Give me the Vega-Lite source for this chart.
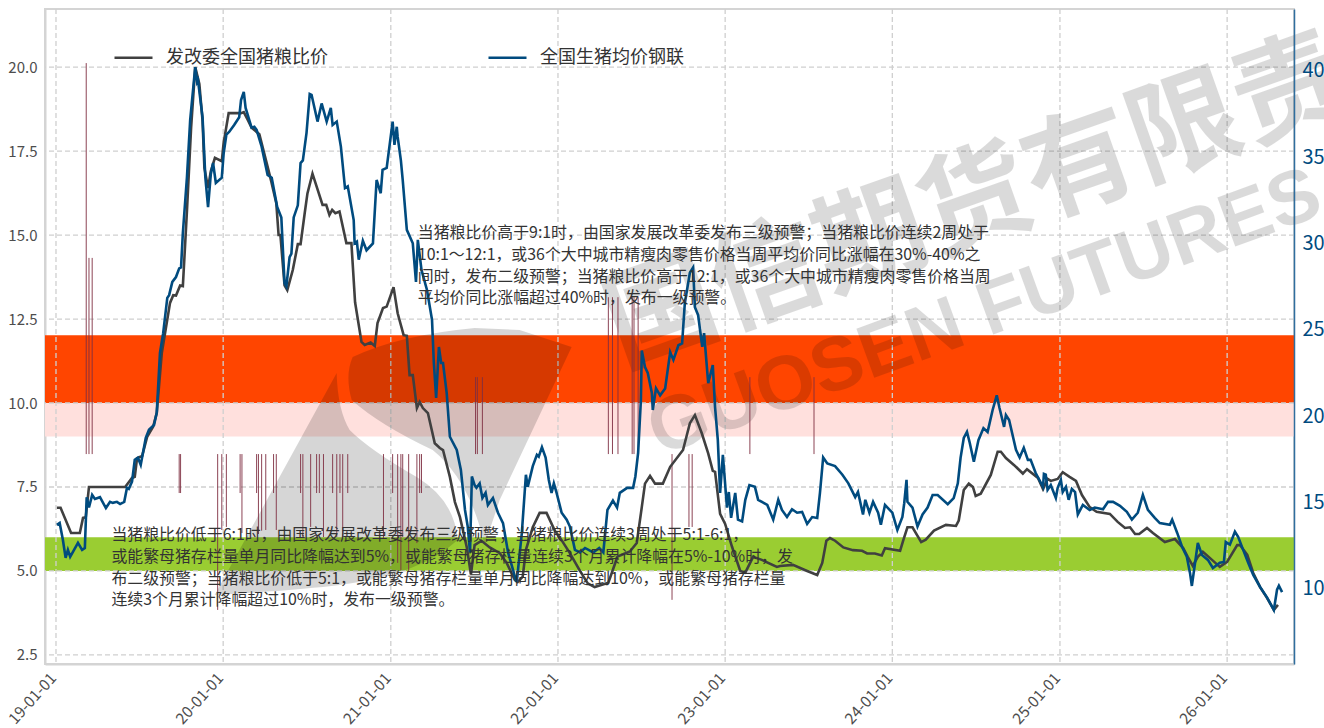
{"$schema":"https://vega.github.io/schema/vega-lite/v6.json","width":1249,"height":655,"autosize":{"type":"none"},"padding":{"left":45,"top":9,"right":30,"bottom":64},"background":"white","config":{"font":"Noto Sans CJK SC","view":{"stroke":"#d4d4d4","strokeWidth":2},"axisX":{"title":null,"grid":false,"ticks":false,"labelAngle":-48,"labelAlign":"right","labelBaseline":"middle","labelFontSize":15.5,"labelColor":"#4d4d4d","labelPadding":11,"labelOffset":-3,"labelFlush":false,"domainColor":"#d4d4d4","domainWidth":2,"format":"%y-%m-%d","tickCount":{"interval":"year","step":1}}},
"datasets":{
"bands":[{"y1":10,"y2":12.02,"c":"r"},{"y1":9,"y2":10,"c":"p"},{"y1":5,"y2":6,"c":"g"}],
"gridY":[{"v":2.5},{"v":5},{"v":7.5},{"v":10},{"v":12.5},{"v":15},{"v":17.5},{"v":20}],
"gridX":[{"d":"2019-01-01"},{"d":"2020-01-01"},{"d":"2021-01-01"},{"d":"2022-01-01"},{"d":"2023-01-01"},{"d":"2024-01-01"},{"d":"2025-01-01"},{"d":"2026-01-01"}],
"marks":[{"d":"2019-03-08","y1":20.12,"y2":8.48},{"d":"2019-03-14","y1":14.32,"y2":8.48},{"d":"2019-03-21","y1":14.32,"y2":8.48},{"d":"2019-09-27","y1":8.48,"y2":7.32},{"d":"2019-09-30","y1":8.48,"y2":7.32},{"d":"2019-12-20","y1":8.48,"y2":3.84},{"d":"2019-12-29","y1":8.48,"y2":6.22},{"d":"2020-01-08","y1":8.48,"y2":6.31},{"d":"2020-02-07","y1":8.48,"y2":7.32},{"d":"2020-02-11","y1":8.48,"y2":6.13},{"d":"2020-03-14","y1":8.48,"y2":7.32},{"d":"2020-03-18","y1":8.48,"y2":6.1},{"d":"2020-03-25","y1":8.48,"y2":6.2},{"d":"2020-04-03","y1":8.48,"y2":6.22},{"d":"2020-04-20","y1":8.48,"y2":7.32},{"d":"2020-04-26","y1":8.48,"y2":6.22},{"d":"2020-06-18","y1":8.48,"y2":7.32},{"d":"2020-06-23","y1":8.48,"y2":6.01},{"d":"2020-07-10","y1":8.48,"y2":6.31},{"d":"2020-07-23","y1":8.48,"y2":7.32},{"d":"2020-07-29","y1":8.48,"y2":7.32},{"d":"2020-08-07","y1":8.48,"y2":6.01},{"d":"2020-08-27","y1":8.48,"y2":7.32},{"d":"2020-09-05","y1":8.48,"y2":6.01},{"d":"2020-09-12","y1":8.48,"y2":7.32},{"d":"2020-09-18","y1":8.48,"y2":6.01},{"d":"2020-09-29","y1":8.48,"y2":7.32},{"d":"2020-12-16","y1":8.48,"y2":5.98},{"d":"2021-01-05","y1":8.48,"y2":7.32},{"d":"2021-01-16","y1":8.48,"y2":5.24},{"d":"2021-01-23","y1":8.48,"y2":5.03},{"d":"2021-01-27","y1":8.48,"y2":6.01},{"d":"2021-02-09","y1":8.48,"y2":4.97},{"d":"2021-02-27","y1":8.48,"y2":5.83},{"d":"2021-03-05","y1":8.48,"y2":7.32},{"d":"2021-03-09","y1":8.48,"y2":7.32},{"d":"2021-07-05","y1":10.77,"y2":8.48},{"d":"2021-07-09","y1":10.77,"y2":8.48},{"d":"2021-07-20","y1":10.77,"y2":8.48},{"d":"2022-04-21","y1":13.15,"y2":8.48},{"d":"2022-04-30","y1":13.15,"y2":8.48},{"d":"2022-05-12","y1":13.15,"y2":8.48},{"d":"2022-06-12","y1":13.15,"y2":8.48},{"d":"2022-06-16","y1":13.15,"y2":8.48},{"d":"2022-06-25","y1":13.15,"y2":8.48},{"d":"2022-09-07","y1":8.48,"y2":4.14},{"d":"2022-10-14","y1":8.48,"y2":6.31},{"d":"2022-10-21","y1":8.48,"y2":6.31},{"d":"2023-02-24","y1":10.77,"y2":8.48},{"d":"2023-07-14","y1":10.77,"y2":8.48}],
"black":[{"d":"2019-01-03","v":6.88},{"d":"2019-01-11","v":6.88},{"d":"2019-02-03","v":6.13},{"d":"2019-02-22","v":6.13},{"d":"2019-03-01","v":6.58},{"d":"2019-03-07","v":6.6},{"d":"2019-03-14","v":7.5},{"d":"2019-06-01","v":7.5},{"d":"2019-06-16","v":7.77},{"d":"2019-06-22","v":7.8},{"d":"2019-06-27","v":8.36},{"d":"2019-07-08","v":8.42},{"d":"2019-07-19","v":8.99},{"d":"2019-08-01","v":9.29},{"d":"2019-08-09","v":9.7},{"d":"2019-08-20","v":11.49},{"d":"2019-09-07","v":12.98},{"d":"2019-09-14","v":13.21},{"d":"2019-09-20","v":13.2},{"d":"2019-09-29","v":13.5},{"d":"2019-10-05","v":13.48},{"d":"2019-10-14","v":15.74},{"d":"2019-10-23","v":18.2},{"d":"2019-11-01","v":20.0},{"d":"2019-11-10","v":19.5},{"d":"2019-11-17","v":18.4},{"d":"2019-11-21","v":17.0},{"d":"2019-11-29","v":16.4},{"d":"2019-12-05","v":16.9},{"d":"2019-12-14","v":17.3},{"d":"2019-12-29","v":17.2},{"d":"2020-01-02","v":17.74},{"d":"2020-01-13","v":18.63},{"d":"2020-02-09","v":18.63},{"d":"2020-02-15","v":18.66},{"d":"2020-02-24","v":18.42},{"d":"2020-03-03","v":18.2},{"d":"2020-03-20","v":18.0},{"d":"2020-04-05","v":17.14},{"d":"2020-04-15","v":16.6},{"d":"2020-04-26","v":15.95},{"d":"2020-05-01","v":15.0},{"d":"2020-05-05","v":15.0},{"d":"2020-05-14","v":13.5},{"d":"2020-05-20","v":13.36},{"d":"2020-06-01","v":13.96},{"d":"2020-06-12","v":14.73},{"d":"2020-06-18","v":14.73},{"d":"2020-06-27","v":15.65},{"d":"2020-07-03","v":16.24},{"d":"2020-07-14","v":16.83},{"d":"2020-08-05","v":15.9},{"d":"2020-08-13","v":15.9},{"d":"2020-08-20","v":15.6},{"d":"2020-08-26","v":15.75},{"d":"2020-09-02","v":15.65},{"d":"2020-09-11","v":15.7},{"d":"2020-09-26","v":14.76},{"d":"2020-10-07","v":14.76},{"d":"2020-10-15","v":13.0},{"d":"2020-10-29","v":11.82},{"d":"2020-11-05","v":11.73},{"d":"2020-11-18","v":11.8},{"d":"2020-11-27","v":11.7},{"d":"2020-12-03","v":12.38},{"d":"2020-12-15","v":12.83},{"d":"2020-12-23","v":12.87},{"d":"2021-01-07","v":13.45},{"d":"2021-01-16","v":12.67},{"d":"2021-01-29","v":12.02},{"d":"2021-02-05","v":12.0},{"d":"2021-02-11","v":10.83},{"d":"2021-02-18","v":10.83},{"d":"2021-02-27","v":9.85},{"d":"2021-03-05","v":10.03},{"d":"2021-03-12","v":9.85},{"d":"2021-03-23","v":9.7},{"d":"2021-04-07","v":8.8},{"d":"2021-04-18","v":8.66},{"d":"2021-04-25","v":8.6},{"d":"2021-05-10","v":7.8},{"d":"2021-05-21","v":7.05},{"d":"2021-06-01","v":6.6},{"d":"2021-06-16","v":5.7},{"d":"2021-06-25","v":4.9},{"d":"2021-07-03","v":5.77},{"d":"2021-07-18","v":5.9},{"d":"2021-08-05","v":5.7},{"d":"2021-08-27","v":5.53},{"d":"2021-09-11","v":5.24},{"d":"2021-09-29","v":4.73},{"d":"2021-10-05","v":4.67},{"d":"2021-10-16","v":4.83},{"d":"2021-10-23","v":5.63},{"d":"2021-11-07","v":6.3},{"d":"2021-11-22","v":6.73},{"d":"2021-12-07","v":6.73},{"d":"2021-12-25","v":6.2},{"d":"2022-01-05","v":6.0},{"d":"2022-01-27","v":5.53},{"d":"2022-02-18","v":5.0},{"d":"2022-03-07","v":4.63},{"d":"2022-03-22","v":4.52},{"d":"2022-04-21","v":4.65},{"d":"2022-05-11","v":5.43},{"d":"2022-06-07","v":5.58},{"d":"2022-06-22","v":5.83},{"d":"2022-07-03","v":6.9},{"d":"2022-07-10","v":7.6},{"d":"2022-07-21","v":7.83},{"d":"2022-08-01","v":7.6},{"d":"2022-08-18","v":7.6},{"d":"2022-09-03","v":8.1},{"d":"2022-10-01","v":8.6},{"d":"2022-10-16","v":9.4},{"d":"2022-10-27","v":9.64},{"d":"2022-11-11","v":9.1},{"d":"2022-11-25","v":8.5},{"d":"2022-12-05","v":7.98},{"d":"2022-12-10","v":7.95},{"d":"2022-12-21","v":6.7},{"d":"2023-01-01","v":6.4},{"d":"2023-01-16","v":5.72},{"d":"2023-02-03","v":5.0},{"d":"2023-02-14","v":4.95},{"d":"2023-03-03","v":5.42},{"d":"2023-03-22","v":5.33},{"d":"2023-04-24","v":5.12},{"d":"2023-05-01","v":5.15},{"d":"2023-05-29","v":5.18},{"d":"2023-06-29","v":5.0},{"d":"2023-07-21","v":4.88},{"d":"2023-08-01","v":5.24},{"d":"2023-08-10","v":5.9},{"d":"2023-08-18","v":5.98},{"d":"2023-08-29","v":5.9},{"d":"2023-09-16","v":5.7},{"d":"2023-10-07","v":5.62},{"d":"2023-10-27","v":5.6},{"d":"2023-11-07","v":5.52},{"d":"2023-11-24","v":5.52},{"d":"2023-12-09","v":5.46},{"d":"2023-12-16","v":5.68},{"d":"2024-01-18","v":5.6},{"d":"2024-01-25","v":5.92},{"d":"2024-02-03","v":6.3},{"d":"2024-02-14","v":6.3},{"d":"2024-03-04","v":5.86},{"d":"2024-03-14","v":5.93},{"d":"2024-04-01","v":6.2},{"d":"2024-04-27","v":6.37},{"d":"2024-05-19","v":6.34},{"d":"2024-05-25","v":6.5},{"d":"2024-06-05","v":7.41},{"d":"2024-06-16","v":7.6},{"d":"2024-06-25","v":7.5},{"d":"2024-07-01","v":7.23},{"d":"2024-07-12","v":7.3},{"d":"2024-08-03","v":7.86},{"d":"2024-08-18","v":8.55},{"d":"2024-08-25","v":8.55},{"d":"2024-09-05","v":8.36},{"d":"2024-09-23","v":8.15},{"d":"2024-10-12","v":7.9},{"d":"2024-10-21","v":8.03},{"d":"2024-11-14","v":7.77},{"d":"2024-11-25","v":7.44},{"d":"2024-12-05","v":7.74},{"d":"2024-12-12","v":7.68},{"d":"2024-12-27","v":7.74},{"d":"2025-01-07","v":7.94},{"d":"2025-01-22","v":7.8},{"d":"2025-02-05","v":7.68},{"d":"2025-02-18","v":7.26},{"d":"2025-03-07","v":6.9},{"d":"2025-03-22","v":6.76},{"d":"2025-04-20","v":6.7},{"d":"2025-05-07","v":6.46},{"d":"2025-05-23","v":6.28},{"d":"2025-06-03","v":6.3},{"d":"2025-06-14","v":6.1},{"d":"2025-06-23","v":6.1},{"d":"2025-07-10","v":6.28},{"d":"2025-07-23","v":6.13},{"d":"2025-08-18","v":5.86},{"d":"2025-09-09","v":5.95},{"d":"2025-09-27","v":5.68},{"d":"2025-10-07","v":5.42},{"d":"2025-10-18","v":5.15},{"d":"2025-10-29","v":5.42},{"d":"2025-11-09","v":5.57},{"d":"2025-11-29","v":5.33},{"d":"2025-12-16","v":5.12},{"d":"2026-01-01","v":5.27},{"d":"2026-01-23","v":5.77},{"d":"2026-01-29","v":5.77},{"d":"2026-02-14","v":5.48},{"d":"2026-02-27","v":4.94},{"d":"2026-03-14","v":4.52},{"d":"2026-03-29","v":4.2},{"d":"2026-04-13","v":3.84},{"d":"2026-04-22","v":3.99}],
"blue":[{"d":"2019-01-03","v":13.6},{"d":"2019-01-09","v":13.71},{"d":"2019-01-16","v":12.73},{"d":"2019-01-22","v":11.69},{"d":"2019-01-27","v":12.15},{"d":"2019-02-01","v":11.75},{"d":"2019-02-07","v":12.03},{"d":"2019-02-18","v":12.55},{"d":"2019-02-27","v":12.15},{"d":"2019-03-05","v":12.26},{"d":"2019-03-09","v":15.2},{"d":"2019-03-14","v":14.6},{"d":"2019-03-21","v":15.33},{"d":"2019-03-27","v":15.1},{"d":"2019-04-07","v":15.2},{"d":"2019-04-20","v":14.57},{"d":"2019-04-29","v":14.93},{"d":"2019-05-05","v":14.87},{"d":"2019-05-14","v":14.93},{"d":"2019-05-21","v":14.8},{"d":"2019-05-30","v":14.93},{"d":"2019-06-05","v":15.74},{"d":"2019-06-09","v":15.68},{"d":"2019-06-16","v":16.1},{"d":"2019-06-22","v":17.36},{"d":"2019-06-29","v":17.48},{"d":"2019-07-05","v":17.07},{"d":"2019-07-16","v":18.63},{"d":"2019-07-23","v":19.1},{"d":"2019-08-03","v":19.38},{"d":"2019-08-09","v":20.1},{"d":"2019-08-16","v":23.55},{"d":"2019-08-23","v":24.7},{"d":"2019-09-01","v":26.74},{"d":"2019-09-05","v":26.9},{"d":"2019-09-12","v":27.67},{"d":"2019-09-20","v":27.95},{"d":"2019-09-27","v":28.45},{"d":"2019-10-01","v":28.5},{"d":"2019-10-05","v":30.5},{"d":"2019-10-14","v":33.75},{"d":"2019-10-21","v":37.05},{"d":"2019-11-01","v":40.1},{"d":"2019-11-05","v":39.25},{"d":"2019-11-07","v":39.36},{"d":"2019-11-17","v":37.2},{"d":"2019-11-23","v":33.75},{"d":"2019-11-29","v":32.0},{"d":"2019-12-05","v":33.9},{"d":"2019-12-10","v":34.55},{"d":"2019-12-16","v":33.4},{"d":"2019-12-29","v":33.7},{"d":"2020-01-02","v":35.1},{"d":"2020-01-08","v":36.2},{"d":"2020-01-14","v":36.35},{"d":"2020-01-25","v":36.75},{"d":"2020-02-05","v":37.2},{"d":"2020-02-09","v":38.2},{"d":"2020-02-15","v":38.67},{"d":"2020-02-19","v":37.74},{"d":"2020-03-03","v":36.6},{"d":"2020-03-09","v":36.65},{"d":"2020-03-14","v":36.47},{"d":"2020-03-25","v":35.5},{"d":"2020-04-07","v":33.86},{"d":"2020-04-16","v":33.7},{"d":"2020-04-28","v":32.0},{"d":"2020-05-07","v":31.4},{"d":"2020-05-14","v":27.6},{"d":"2020-05-18","v":27.4},{"d":"2020-05-25","v":29.1},{"d":"2020-05-29","v":29.3},{"d":"2020-06-03","v":31.4},{"d":"2020-06-12","v":32.1},{"d":"2020-06-18","v":34.55},{"d":"2020-06-23","v":34.7},{"d":"2020-07-01","v":36.3},{"d":"2020-07-08","v":38.55},{"d":"2020-07-12","v":38.5},{"d":"2020-07-25","v":36.95},{"d":"2020-08-03","v":38.0},{"d":"2020-08-14","v":36.95},{"d":"2020-08-23","v":37.74},{"d":"2020-08-27","v":36.75},{"d":"2020-09-05","v":36.95},{"d":"2020-09-14","v":35.5},{"d":"2020-09-23","v":33.1},{"d":"2020-09-29","v":33.2},{"d":"2020-10-12","v":31.25},{"d":"2020-10-14","v":29.9},{"d":"2020-10-19","v":30.0},{"d":"2020-10-23","v":28.95},{"d":"2020-11-01","v":30.05},{"d":"2020-11-09","v":29.5},{"d":"2020-11-23","v":29.9},{"d":"2020-12-01","v":33.57},{"d":"2020-12-10","v":32.8},{"d":"2020-12-14","v":34.15},{"d":"2020-12-23","v":34.27},{"d":"2021-01-05","v":36.95},{"d":"2021-01-09","v":35.6},{"d":"2021-01-14","v":36.65},{"d":"2021-01-16","v":36.06},{"d":"2021-01-23","v":34.7},{"d":"2021-01-27","v":33.57},{"d":"2021-02-05","v":30.68},{"d":"2021-02-18","v":29.9},{"d":"2021-02-25","v":27.67},{"d":"2021-03-01","v":30.1},{"d":"2021-03-09","v":28.36},{"d":"2021-03-21","v":27.2},{"d":"2021-04-01","v":25.47},{"d":"2021-04-05","v":22.97},{"d":"2021-04-10","v":20.95},{"d":"2021-04-16","v":23.9},{"d":"2021-04-21","v":22.97},{"d":"2021-04-25","v":22.97},{"d":"2021-05-03","v":21.24},{"d":"2021-05-10","v":18.7},{"d":"2021-05-25","v":17.94},{"d":"2021-06-03","v":16.78},{"d":"2021-06-12","v":14.46},{"d":"2021-06-18","v":13.5},{"d":"2021-06-23","v":12.0},{"d":"2021-06-27","v":16.4},{"d":"2021-07-03","v":15.9},{"d":"2021-07-07","v":15.75},{"d":"2021-07-14","v":16.0},{"d":"2021-07-20","v":15.15},{"d":"2021-07-27","v":15.45},{"d":"2021-08-01","v":14.75},{"d":"2021-08-12","v":15.15},{"d":"2021-08-23","v":14.3},{"d":"2021-09-03","v":13.7},{"d":"2021-09-14","v":12.0},{"d":"2021-09-29","v":10.6},{"d":"2021-10-03","v":10.3},{"d":"2021-10-14","v":13.1},{"d":"2021-10-23","v":16.5},{"d":"2021-10-27","v":15.8},{"d":"2021-11-07","v":17.0},{"d":"2021-11-16","v":17.65},{"d":"2021-11-20","v":17.55},{"d":"2021-11-27","v":18.1},{"d":"2021-12-05","v":17.5},{"d":"2021-12-12","v":16.2},{"d":"2021-12-18","v":15.45},{"d":"2021-12-23","v":16.0},{"d":"2021-12-29","v":15.45},{"d":"2022-01-09","v":14.3},{"d":"2022-01-20","v":13.9},{"d":"2022-01-27","v":13.5},{"d":"2022-02-07","v":12.15},{"d":"2022-02-18","v":12.0},{"d":"2022-03-01","v":12.26},{"d":"2022-03-19","v":12.0},{"d":"2022-04-01","v":12.26},{"d":"2022-04-10","v":12.0},{"d":"2022-04-19","v":14.46},{"d":"2022-05-01","v":15.0},{"d":"2022-05-10","v":14.6},{"d":"2022-05-16","v":15.45},{"d":"2022-06-01","v":15.74},{"d":"2022-06-14","v":15.74},{"d":"2022-06-19","v":16.4},{"d":"2022-06-25","v":17.77},{"d":"2022-07-01","v":20.8},{"d":"2022-07-03","v":23.7},{"d":"2022-07-10","v":22.74},{"d":"2022-07-16","v":22.4},{"d":"2022-07-25","v":21.24},{"d":"2022-07-27","v":20.25},{"d":"2022-08-03","v":21.5},{"d":"2022-08-12","v":21.1},{"d":"2022-08-23","v":21.5},{"d":"2022-09-03","v":23.6},{"d":"2022-09-10","v":23.15},{"d":"2022-09-21","v":24.0},{"d":"2022-09-29","v":24.1},{"d":"2022-10-05","v":26.45},{"d":"2022-10-16","v":28.2},{"d":"2022-10-23","v":28.5},{"d":"2022-10-27","v":26.2},{"d":"2022-11-03","v":25.75},{"d":"2022-11-12","v":23.9},{"d":"2022-11-16","v":24.7},{"d":"2022-11-25","v":21.8},{"d":"2022-12-05","v":22.85},{"d":"2022-12-10","v":20.4},{"d":"2022-12-16","v":18.5},{"d":"2022-12-21","v":15.45},{"d":"2022-12-27","v":17.65},{"d":"2023-01-05","v":14.6},{"d":"2023-01-09","v":15.5},{"d":"2023-01-14","v":14.0},{"d":"2023-01-23","v":15.45},{"d":"2023-01-29","v":13.9},{"d":"2023-02-07","v":13.8},{"d":"2023-02-14","v":15.05},{"d":"2023-02-23","v":15.9},{"d":"2023-03-07","v":15.8},{"d":"2023-03-14","v":15.05},{"d":"2023-04-03","v":14.75},{"d":"2023-04-16","v":13.9},{"d":"2023-04-27","v":15.05},{"d":"2023-05-05","v":14.46},{"d":"2023-05-16","v":14.05},{"d":"2023-05-27","v":14.5},{"d":"2023-06-07","v":14.3},{"d":"2023-06-18","v":14.35},{"d":"2023-06-29","v":13.65},{"d":"2023-07-10","v":14.05},{"d":"2023-07-21","v":14.0},{"d":"2023-07-27","v":15.45},{"d":"2023-08-03","v":17.5},{"d":"2023-08-12","v":17.15},{"d":"2023-08-29","v":17.0},{"d":"2023-09-14","v":16.5},{"d":"2023-09-27","v":16.0},{"d":"2023-10-12","v":15.2},{"d":"2023-10-18","v":15.5},{"d":"2023-10-29","v":14.2},{"d":"2023-11-03","v":15.05},{"d":"2023-11-12","v":14.3},{"d":"2023-11-20","v":14.93},{"d":"2023-12-01","v":14.3},{"d":"2023-12-07","v":13.6},{"d":"2023-12-16","v":14.75},{"d":"2024-01-01","v":14.3},{"d":"2024-01-12","v":13.3},{"d":"2024-01-23","v":14.05},{"d":"2024-01-27","v":14.85},{"d":"2024-02-01","v":16.2},{"d":"2024-02-03","v":14.93},{"d":"2024-02-14","v":14.6},{"d":"2024-02-25","v":13.5},{"d":"2024-03-07","v":14.2},{"d":"2024-03-18","v":14.6},{"d":"2024-03-29","v":15.33},{"d":"2024-04-09","v":15.33},{"d":"2024-05-01","v":14.8},{"d":"2024-05-14","v":15.15},{"d":"2024-05-23","v":16.0},{"d":"2024-05-29","v":17.48},{"d":"2024-06-05","v":18.63},{"d":"2024-06-12","v":18.98},{"d":"2024-06-18","v":18.35},{"d":"2024-06-27","v":17.25},{"d":"2024-07-07","v":18.5},{"d":"2024-07-18","v":19.2},{"d":"2024-07-27","v":18.98},{"d":"2024-08-07","v":20.25},{"d":"2024-08-16","v":21.1},{"d":"2024-08-22","v":20.36},{"d":"2024-09-01","v":19.27},{"d":"2024-09-05","v":19.96},{"d":"2024-09-12","v":19.67},{"d":"2024-09-27","v":17.94},{"d":"2024-10-05","v":17.5},{"d":"2024-10-14","v":18.06},{"d":"2024-10-23","v":17.36},{"d":"2024-10-29","v":17.36},{"d":"2024-11-09","v":16.6},{"d":"2024-11-25","v":15.8},{"d":"2024-11-27","v":16.55},{"d":"2024-12-01","v":16.5},{"d":"2024-12-05","v":15.62},{"d":"2024-12-12","v":15.9},{"d":"2024-12-23","v":15.15},{"d":"2024-12-27","v":15.74},{"d":"2025-01-03","v":16.2},{"d":"2025-01-07","v":15.5},{"d":"2025-01-14","v":15.8},{"d":"2025-01-20","v":15.05},{"d":"2025-01-27","v":15.68},{"d":"2025-02-03","v":15.5},{"d":"2025-02-09","v":14.2},{"d":"2025-02-20","v":14.75},{"d":"2025-03-07","v":14.46},{"d":"2025-03-18","v":14.6},{"d":"2025-04-05","v":14.5},{"d":"2025-04-16","v":14.93},{"d":"2025-04-27","v":14.93},{"d":"2025-05-12","v":14.7},{"d":"2025-05-27","v":14.35},{"d":"2025-06-07","v":13.9},{"d":"2025-06-20","v":14.3},{"d":"2025-07-01","v":15.33},{"d":"2025-07-12","v":14.46},{"d":"2025-07-27","v":14.0},{"d":"2025-08-07","v":13.7},{"d":"2025-08-29","v":13.6},{"d":"2025-09-03","v":13.9},{"d":"2025-09-14","v":13.13},{"d":"2025-09-25","v":12.3},{"d":"2025-10-05","v":11.75},{"d":"2025-10-12","v":10.8},{"d":"2025-10-16","v":10.06},{"d":"2025-10-23","v":11.4},{"d":"2025-10-29","v":12.55},{"d":"2025-11-07","v":11.85},{"d":"2025-11-20","v":11.57},{"d":"2025-12-01","v":11.1},{"d":"2025-12-16","v":11.4},{"d":"2025-12-25","v":11.45},{"d":"2025-12-29","v":12.6},{"d":"2026-01-07","v":12.45},{"d":"2026-01-18","v":13.2},{"d":"2026-01-25","v":12.9},{"d":"2026-02-05","v":12.15},{"d":"2026-02-16","v":11.4},{"d":"2026-02-27","v":10.7},{"d":"2026-03-14","v":10.0},{"d":"2026-03-29","v":9.4},{"d":"2026-04-13","v":8.67},{"d":"2026-04-20","v":9.85},{"d":"2026-04-24","v":10.07},{"d":"2026-05-01","v":9.7}]
},
"resolve":{"scale":{"y":"independent"},"axis":{"y":"independent"}},
"layer":[
{"data":{"name":"bands"},"mark":{"type":"rect"},"encoding":{"y":{"field":"y1","type":"quantitative","scale":{"domain":[2.23,21.73],"nice":false,"zero":false},"axis":{"orient":"left","values":[2.5,5,7.5,10,12.5,15,17.5,20],"format":".1f","title":null,"grid":false,"ticks":false,"labelFontSize":15,"labelColor":"#4d4d4d","labelPadding":8,"domainColor":"#d4d4d4","domainWidth":2}},"y2":{"field":"y2"},"fill":{"field":"c","type":"nominal","scale":{"domain":["r","p","g"],"range":["#FF4500","#FFE0DD","#9ACD32"]},"legend":null}}},
{"data":{"name":"gridY"},"mark":{"type":"rule","stroke":"#cfcfcf","strokeWidth":1.3,"strokeDash":[5,3]},"encoding":{"y":{"field":"v","type":"quantitative","scale":{"domain":[2.23,21.73],"nice":false,"zero":false},"axis":null}}},
{"data":{"name":"gridX"},"mark":{"type":"rule","stroke":"#cfcfcf","strokeWidth":1.3,"strokeDash":[5,3]},"encoding":{"x":{"field":"d","type":"temporal","title":null,"scale":{"domain":["2018-12-08","2026-05-27"]}}}},
{"data":{"values":[{"d":"2022-05-19","v":11.1,"t":"国信期货有限责"}]},"mark":{"type":"text","font":"Noto Sans CJK SC","fontWeight":"bold","fontSize":111,"angle":-19.5,"align":"left","baseline":"alphabetic","fill":"#000000","opacity":0.14},"encoding":{"x":{"field":"d","type":"temporal","title":null},"y":{"field":"v","type":"quantitative","scale":{"domain":[2.23,21.73],"nice":false,"zero":false},"axis":null},"text":{"field":"t"}}},
{"data":{"values":[{"d":"2022-08-10","v":8.42,"t":"GUOSEN FUTURES"}]},"mark":{"type":"text","font":"Liberation Sans","fontWeight":"bold","fontSize":76,"angle":-20,"align":"left","baseline":"alphabetic","fill":"#000000","opacity":0.14},"encoding":{"x":{"field":"d","type":"temporal","title":null},"y":{"field":"v","type":"quantitative","scale":{"domain":[2.23,21.73],"nice":false,"zero":false},"axis":null},"text":{"field":"t"}}},
{"data":{"values":[{"d":"2020-10-01","v":7.29}]},"mark":{"type":"point","filled":true,"fill":"#000000","stroke":null,"opacity":0.16,"size":4,"shape":"M-12,-121 L-134,101 Q-49,96 -9,91 Q71,81 109,46 Q106,6 68,-17 Q21,-44 1,-64 Q-11,-84 -12,-121 Z M4,-137 Q51,-159 126,-166 L171,-164 L223,-147 L151,6 L136,51 Q121,-14 84,-44 Q31,-69 3,-94 Q-4,-119 4,-137 Z"},"encoding":{"x":{"field":"d","type":"temporal","title":null},"y":{"field":"v","type":"quantitative","scale":{"domain":[2.23,21.73],"nice":false,"zero":false},"axis":null}}},
{"data":{"name":"marks"},"mark":{"type":"rule","stroke":"#7F2F42","strokeWidth":0.9},"encoding":{"x":{"field":"d","type":"temporal","title":null},"y":{"field":"y1","type":"quantitative","scale":{"domain":[2.23,21.73],"nice":false,"zero":false},"axis":null},"y2":{"field":"y2"}}},
{"data":{"name":"black"},"mark":{"type":"line","strokeWidth":2.6,"clip":true},"encoding":{"x":{"field":"d","type":"temporal","title":null},"y":{"field":"v","type":"quantitative","scale":{"domain":[2.23,21.73],"nice":false,"zero":false},"axis":null},"color":{"datum":"发改委全国猪粮比价","type":"nominal","scale":{"domain":["发改委全国猪粮比价","全国生猪均价钢联"],"range":["#404040","#004B7F"]},"legend":{"orient":"none","legendX":68,"legendY":28,"columns":2,"columnPadding":155,"title":null,"symbolType":"stroke","symbolSize":1444,"symbolStrokeWidth":2.6,"labelFontSize":18,"labelColor":"#333333","labelOffset":12,"labelLimit":300}}}},
{"data":{"name":"blue"},"mark":{"type":"line","strokeWidth":2.6,"clip":true},"encoding":{"x":{"field":"d","type":"temporal","title":null},"y":{"field":"v","type":"quantitative","scale":{"domain":[5.54,43.47],"nice":false,"zero":false},"axis":{"orient":"right","values":[10,15,20,25,30,35,40],"format":"d","title":null,"grid":false,"ticks":false,"labelFontSize":20,"labelColor":"#004B7F","labelPadding":8,"labelOffset":2,"domainColor":"#2F6E9E","domainWidth":1.5,"zindex":1}},"color":{"datum":"全国生猪均价钢联","type":"nominal"}}},
{"data":{"values":[{"d":"2021-03-01","v":15.3,"t":"当猪粮比价高于9:1时，由国家发展改革委发布三级预警；当猪粮比价连续2周处于\n10:1～12:1，或36个大中城市精瘦肉零售价格当周平均价同比涨幅在30%-40%之\n间时，发布二级预警；当猪粮比价高于12:1，或36个大中城市精瘦肉零售价格当周\n平均价同比涨幅超过40%时，发布一级预警。"},{"d":"2019-05-02","v":6.31,"t":"当猪粮比价低于6:1时，由国家发展改革委发布三级预警；当猪粮比价连续3周处于5:1-6:1，\n或能繁母猪存栏量单月同比降幅达到5%，或能繁母猪存栏量连续3个月累计降幅在5%-10%时，发\n布二级预警；当猪粮比价低于5:1，或能繁母猪存栏量单月同比降幅达到10%，或能繁母猪存栏量\n连续3个月累计降幅超过10%时，发布一级预警。"}]},"mark":{"type":"text","font":"Noto Sans CJK SC","fontSize":15.9,"align":"left","baseline":"top","lineBreak":"\n","lineHeight":21.8,"fill":"#333333"},"encoding":{"x":{"field":"d","type":"temporal","title":null},"y":{"field":"v","type":"quantitative","scale":{"domain":[2.23,21.73],"nice":false,"zero":false},"axis":null},"text":{"field":"t"}}}
]}
